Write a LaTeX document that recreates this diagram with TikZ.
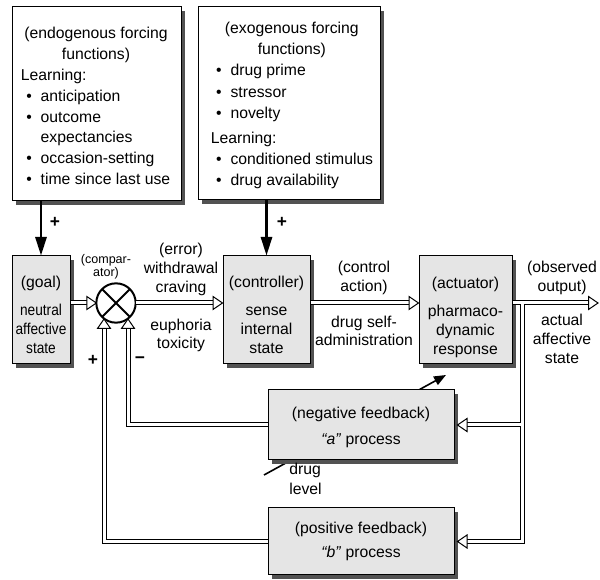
\documentclass[tikz,border=0pt]{standalone}
\usepackage{fontspec}
\setmainfont{Liberation Sans}
\usepackage{graphicx}
\usetikzlibrary{arrows.meta,calc,shadows}

% helpers for the forcing-function lists
\newcommand\hdr[2]{\makebox[#1]{#2}}
\newcommand\bul[1]{\hspace*{4pt}\makebox[10.8pt][l]{\textbullet}#1}
\newcommand\sqz[1]{\scalebox{0.87}[1]{#1}}

\tikzset{
  base/.style={font=\fontsize{11.8pt}{14.25pt}\selectfont, inner sep=0pt},
  fbox/.style={draw, line width=0.75pt, fill=white, inner sep=0pt,
    drop shadow={shadow xshift=3.2pt, shadow yshift=-3.2pt, fill=black!68, opacity=1}},
  gbox/.style={fbox, fill=black!10},
  lbl/.style={base, align=center},
  sign/.style={inner sep=0pt, font=\fontsize{13pt}{14pt}\selectfont\bfseries},
  force/.style={line width=1.6pt, -{Triangle[length=14pt,width=8.5pt]}},
  dark/.style={line width=3.75pt, black},
  light/.style={line width=2.25pt, white},
  otip/.pic={\filldraw[fill=white, line width=0.75pt, line join=miter] (0,0) -- (-9.5,6.5) -- (-9.5,-6.5) -- cycle;},
}

% double-line connectors, drawn once dark and once light
\newcommand\dlinks[1]{%
  \draw[#1, shorten >=7.1pt] (goal.east |- comp) -- (comp.west);
  \draw[#1, shorten >=7.1pt] (comp.east) -- (ctrl.west |- comp);
  \draw[#1, shorten >=7.1pt] (ctrl.east |- comp) -- (act.west |- comp);
  \draw[#1, shorten >=7.1pt] (act.east |- comp) -- (outend);
  \draw[#1, shorten >=7.1pt] (jr) -- (jr |- tb) -- (tb);
  \draw[#1, shorten >=7.1pt] (jr |- ta) -- (ta);
  \draw[#1, shorten >=7.1pt] (na.west) -| (cm);
  \draw[#1, shorten >=7.1pt] (pb.west) -| (cp);
}

\begin{document}
\begin{tikzpicture}[x=0.75pt, y=-0.75pt]
\useasboundingbox (0,0) rectangle (600,580);
\fill[white] (0,0) rectangle (600,580);

% drug level arrow, passing behind the "a" process box
\coordinate (dl) at (264,475);
\coordinate (dlend) at (446,375);
\draw[line width=1.2pt, -{Triangle[length=9pt,width=7pt]}] (dl) -- (dlend);

% forcing-function boxes
\node[fbox, minimum width=126.75pt, minimum height=145.5pt] (endo) at (96.5,104) {};
\node[fbox, minimum width=136.5pt, minimum height=144.75pt] (exo) at (289,103.5) {};

% main loop blocks
\node[gbox, minimum width=43.5pt, minimum height=81pt] (goal) at (41,310) {};
\node[gbox, minimum width=65.25pt, minimum height=81pt] (ctrl) at (266.5,310) {};
\node[gbox, minimum width=69.75pt, minimum height=81pt] (act) at (465.5,310) {};
\node[gbox, minimum width=139.5pt, minimum height=52.5pt] (na) at (361,425) {};
\node[gbox, minimum width=139.5pt, minimum height=50.25pt] (pb) at (361,541.5) {};

% comparator
\node[circle, draw, line width=1.5pt, fill=white, minimum size=29.5pt, inner sep=0pt, outer sep=0pt] (comp) at (116,303) {};

% connector end points
\coordinate (outend) at (598,303);
\coordinate (jr) at (522,303);
\coordinate (ta) at ($(na.east)+(3,0)$);
\coordinate (tb) at ($(pb.east)+(3,0)$);
\coordinate (cp) at (104,319);
\coordinate (cm) at (128,319);

\dlinks{dark}
\dlinks{light}

% open arrow heads
\pic at (comp.west) {otip};
\pic at (ctrl.west |- comp) {otip};
\pic at (act.west |- comp) {otip};
\pic at (outend) {otip};
\pic[rotate=180] at (ta) {otip};
\pic[rotate=180] at (tb) {otip};
\pic[rotate=90] at (cp) {otip};
\pic[rotate=90] at (cm) {otip};

% comparator cross
\draw[line width=1.5pt] (comp.north west) -- (comp.south east)
                        (comp.north east) -- (comp.south west);

% forcing arrows
\draw[force] (endo.south -| goal.north) -- (goal.north);
\draw[force] (exo.south -| ctrl.north) -- (ctrl.north);

% box texts
\node[lbl, align=left, font=\fontsize{11.8pt}{15.64pt}\selectfont] (endotxt) at (96,106)
  {\hdr{112.5pt}{(endogenous forcing}\\ \hdr{112.5pt}{functions)}\\ Learning:\\
   \bul{anticipation}\\ \bul{outcome}\\ \hspace*{14.8pt}expectancies\\
   \bul{occasion-setting}\\ \bul{time since last use}};
\node[lbl, align=left, font=\fontsize{11.8pt}{16pt}\selectfont] (exotxt) at (292,105.5)
  {\hdr{121.5pt}{(exogenous forcing}\\ \hdr{121.5pt}{functions)}\\
   \bul{drug prime}\\ \bul{stressor}\\ \bul{novelty}\\[2.5pt] Learning:\\
   \bul{conditioned stimulus}\\ \bul{drug availability}};

\node[lbl] (goaltxt) at (41,315) {(goal)\\[6.75pt] \sqz{neutral}\\ \sqz{affective}\\ \sqz{state}};
\node[lbl] (ctrltxt) at (266.5,315) {(controller)\\[6.75pt] sense\\ internal\\ state};
\node[lbl] (acttxt) at (465.5,317) {(actuator)\\[6.75pt] pharmaco-\\ dynamic\\ response};
\node[lbl] (natxt) at (361,427) {(negative feedback)\\[5.25pt] \textit{“a”} process};
\node[lbl] (pbtxt) at (361,541) {(positive feedback)\\[3.75pt] \textit{“b”} process};

% connector labels
\node[lbl, font=\fontsize{9.4pt}{9.75pt}\selectfont] (complbl) at (106,267) {(compar-\\ator)};
\node[lbl] (errup) at (181,269) {(error)\\ withdrawal\\ craving};
\node[lbl, font=\fontsize{11.8pt}{13.5pt}\selectfont] (errdn) at (181,335) {euphoria\\ toxicity};
\node[lbl] (ctlup) at (364,278.4) {(control\\ action)};
\node[lbl, font=\fontsize{11.8pt}{13.5pt}\selectfont] (ctldn) at (364,330.4) {drug self-\\ administration};
\node[lbl] (obsup) at (562,278.4) {(observed\\ output)};
\node[lbl] (obsdn) at (562,338.4) {actual\\ affective\\ state};
\node[lbl, align=left, font=\fontsize{11.8pt}{15pt}\selectfont, anchor=west] (dltxt) at (289,479) {drug\\ level};

\node[sign] (plus1) at (55,222) {+};
\node[sign] (plus2) at (282,222) {+};
\node[sign] (plus3) at (93,360) {+};
\node[sign] (minus) at (140,360) {−};
\end{tikzpicture}
\end{document}
